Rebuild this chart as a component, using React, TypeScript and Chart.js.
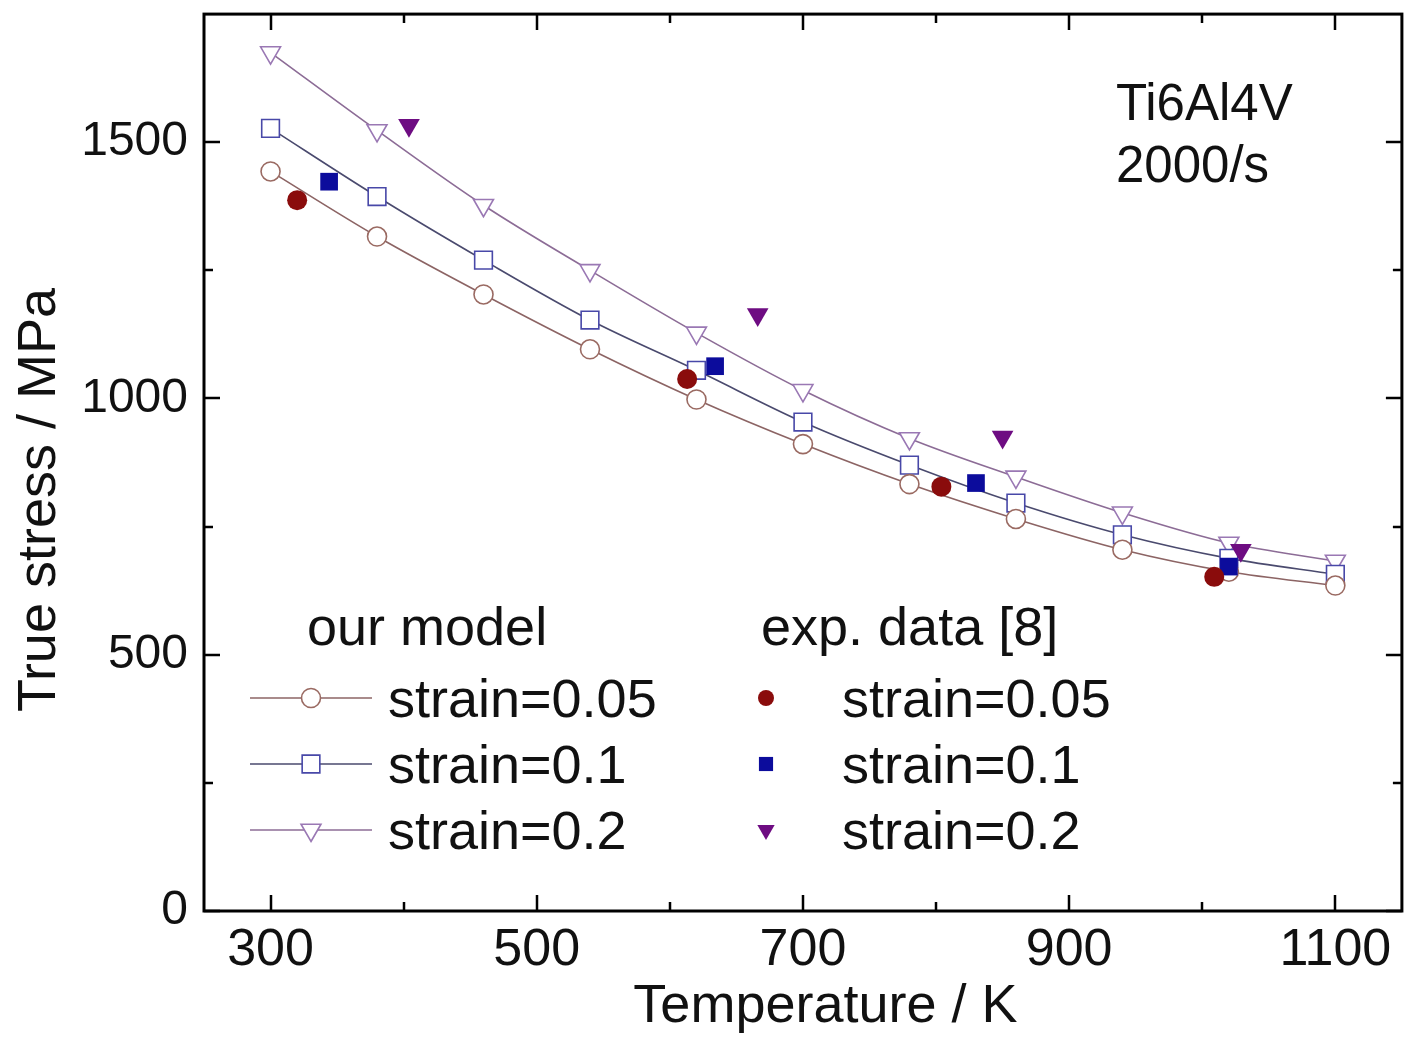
import React, { useEffect, useRef } from "react";
import { Chart, registerables } from "chart.js";

Chart.register(...registerables);

// ---------- data ----------
const MODEL_T = [300, 380, 460, 540, 620, 700, 780, 860, 940, 1020, 1100];
const MODEL_005 = [1443, 1316, 1203, 1096, 998, 911, 833, 765, 705, 662, 635];
const MODEL_01 = [1527, 1394, 1270, 1153, 1055, 954, 870, 796, 734, 688, 657];
const MODEL_02 = [1675, 1523, 1377, 1250, 1128, 1016, 922, 847, 777, 718, 683];

const EXP_T_005 = [320, 613, 804, 1009];
const EXP_005 = [1387, 1038, 828, 652];
const EXP_T_01 = [344, 634, 830, 1020];
const EXP_01 = [1423, 1063, 835, 672];
const EXP_T_02 = [404, 666, 850, 1029];
const EXP_02 = [1533, 1164, 925, 704];

const SERIES_LABELS = ["strain=0.05", "strain=0.1", "strain=0.2"];
const LEGEND_HEADERS = ["our model", "exp. data [8]"];
const ANNOTATION_LINES = ["Ti6Al4V", "2000/s"];

const X_MAJOR = [300, 500, 700, 900, 1100];
const X_MINOR = [400, 600, 800, 1000];
const Y_MAJOR = [0, 500, 1000, 1500];
const Y_MINOR = [250, 750, 1250];

const X_TITLE = "Temperature / K";
const Y_TITLE = "True stress / MPa";

const FONT = "'Liberation Sans', Arial, Helvetica, sans-serif";

const pts = (xs: number[], ys: number[]) => xs.map((x, i) => ({ x, y: ys[i] }));

// ---------- drawing helpers ----------
function drawMarker(
  ctx: CanvasRenderingContext2D,
  style: string,
  x: number,
  y: number,
  r: number,
  fill: string,
  stroke: string,
  lw: number
) {
  ctx.save();
  ctx.beginPath();
  if (style === "circle") {
    ctx.arc(x, y, r, 0, Math.PI * 2);
  } else if (style === "rect") {
    const s = r * Math.SQRT1_2;
    ctx.rect(x - s, y - s, 2 * s, 2 * s);
  } else {
    const h = r;
    ctx.moveTo(x, y + h);
    ctx.lineTo(x + h * Math.sin((2 * Math.PI) / 3), y - h * 0.5);
    ctx.lineTo(x - h * Math.sin((2 * Math.PI) / 3), y - h * 0.5);
    ctx.closePath();
  }
  ctx.fillStyle = fill;
  ctx.fill();
  if (lw > 0) {
    ctx.lineWidth = lw;
    ctx.strokeStyle = stroke;
    ctx.stroke();
  }
  ctx.restore();
}

const framePlugin = {
  id: "frameAndLegend",
  afterDraw(chart: any) {
    const { ctx, chartArea } = chart;
    const { left, right, top, bottom } = chartArea;
    const xs = chart.scales.x;
    const ys = chart.scales.y;
    ctx.save();
    ctx.strokeStyle = "#000";
    ctx.lineWidth = 2.5;
    ctx.lineCap = "butt";
    const MAJ = 16;
    const MIN = 9;
    const xTick = (v: number, len: number) => {
      const px = Math.round(xs.getPixelForValue(v));
      ctx.beginPath();
      ctx.moveTo(px, bottom);
      ctx.lineTo(px, bottom - len);
      ctx.moveTo(px, top);
      ctx.lineTo(px, top + len);
      ctx.stroke();
    };
    const yTick = (v: number, len: number) => {
      const py = Math.round(ys.getPixelForValue(v));
      ctx.beginPath();
      ctx.moveTo(left, py);
      ctx.lineTo(left + len, py);
      ctx.moveTo(right, py);
      ctx.lineTo(right - len, py);
      ctx.stroke();
    };
    X_MAJOR.forEach((v) => xTick(v, MAJ));
    X_MINOR.forEach((v) => xTick(v, MIN));
    Y_MAJOR.forEach((v) => yTick(v, MAJ));
    Y_MINOR.forEach((v) => yTick(v, MIN));
    ctx.lineWidth = 3;
    ctx.strokeRect(left, top, right - left, bottom - top);

    // annotation
    ctx.fillStyle = "#111";
    ctx.font = `51px ${FONT}`;
    ctx.textAlign = "left";
    ctx.textBaseline = "alphabetic";
    ctx.fillText(ANNOTATION_LINES[0], 1116, 120);
    ctx.fillText(ANNOTATION_LINES[1], 1116, 182);

    // legend
    const ds = chart.data.datasets;
    ctx.font = `54px ${FONT}`;
    ctx.fillText(LEGEND_HEADERS[0], 307, 645);
    ctx.fillText(LEGEND_HEADERS[1], 761, 645);
    const baselines = [717, 783, 849];
    const centers = [698, 764, 830];
    for (let i = 0; i < 3; i++) {
      const m = ds[i + 3];
      const e = ds[i];
      ctx.beginPath();
      ctx.strokeStyle = m.borderColor;
      ctx.lineWidth = 1.6;
      ctx.moveTo(250, centers[i]);
      ctx.lineTo(372, centers[i]);
      ctx.stroke();
      drawMarker(ctx, m.pointStyle, 311, centers[i], m.pointRadius, "#fff", m.pointBorderColor, 1.6);
      ctx.fillStyle = "#111";
      ctx.fillText(m.label, 388, baselines[i]);
      drawMarker(ctx, e.pointStyle, 766, centers[i], e.pointRadius * 0.8, e.pointBackgroundColor, e.pointBackgroundColor, 0);
      ctx.fillStyle = "#111";
      ctx.fillText(e.label, 842, baselines[i]);
    }
    ctx.restore();
  },
};

export default function App() {
  const ref = useRef<HTMLCanvasElement | null>(null);

  useEffect(() => {
    if (!ref.current) return;
    const expStyles = [
      { color: "#8a0c0c", style: "circle", r: 10 },
      { color: "#0c0c9c", style: "rect", r: 12.5 },
      { color: "#6e0c82", style: "triangle", r: 12.5 },
    ];
    const modelStyles = [
      { line: "#8c6464", mk: "#9a6a62", style: "circle", r: 9.5 },
      { line: "#4a4a6e", mk: "#4848a8", style: "rect", r: 12.5 },
      { line: "#8c6c96", mk: "#9a78b4", style: "triangle", r: 11.5 },
    ];
    const expData = [pts(EXP_T_005, EXP_005), pts(EXP_T_01, EXP_01), pts(EXP_T_02, EXP_02)];
    const modelData = [pts(MODEL_T, MODEL_005), pts(MODEL_T, MODEL_01), pts(MODEL_T, MODEL_02)];

    const datasets: any[] = [];
    expStyles.forEach((s, i) => {
      datasets.push({
        label: SERIES_LABELS[i],
        data: expData[i],
        showLine: false,
        pointStyle: s.style,
        rotation: s.style === "triangle" ? 180 : 0,
        pointRadius: s.r,
        pointBackgroundColor: s.color,
        pointBorderColor: s.color,
        pointBorderWidth: 0,
        borderColor: s.color,
        backgroundColor: s.color,
        order: 1,
      });
    });
    modelStyles.forEach((s, i) => {
      datasets.push({
        label: SERIES_LABELS[i],
        data: modelData[i],
        showLine: true,
        borderColor: s.line,
        borderWidth: 1.6,
        cubicInterpolationMode: "monotone",
        pointStyle: s.style,
        rotation: s.style === "triangle" ? 180 : 0,
        pointRadius: s.r,
        pointBackgroundColor: "#ffffff",
        pointBorderColor: s.mk,
        pointBorderWidth: 1.6,
        fill: false,
        order: 2,
      });
    });

    const chart = new Chart(ref.current, {
      type: "scatter",
      data: { datasets },
      options: {
        animation: false,
        responsive: false,
        maintainAspectRatio: false,
        devicePixelRatio: 1,
        layout: { padding: { top: 13, right: 10, left: 0, bottom: 0 } },
        plugins: { legend: { display: false }, tooltip: { enabled: false } },
        scales: {
          x: {
            type: "linear",
            min: 250,
            max: 1150,
            grid: { display: false, drawTicks: false },
            border: { display: false },
            afterBuildTicks: (scale: any) => {
              scale.ticks = X_MAJOR.map((v) => ({ value: v }));
            },
            afterFit: (scale: any) => {
              scale.height = 129;
              scale.paddingLeft = 0;
              scale.paddingRight = 0;
            },
            ticks: {
              color: "#111",
              font: { family: FONT, size: 52 },
              padding: 8,
              maxRotation: 0,
              autoSkip: false,
              callback: (v: any) => String(v),
            },
            title: {
              display: true,
              text: "   " + X_TITLE,
              color: "#111",
              font: { family: FONT, size: 54, lineHeight: 1.2 },
              padding: { top: 0, bottom: 0 },
            },
          },
          y: {
            type: "linear",
            min: 0,
            max: 1750,
            grid: { display: false, drawTicks: false },
            border: { display: false },
            afterBuildTicks: (scale: any) => {
              scale.ticks = Y_MAJOR.map((v) => ({ value: v }));
            },
            afterFit: (scale: any) => {
              scale.width = 204;
              scale.paddingTop = 0;
              scale.paddingBottom = 0;
            },
            ticks: {
              color: "#111",
              font: { family: FONT, size: 48 },
              padding: 16,
              autoSkip: false,
              callback: (v: any) => String(v),
            },
            title: {
              display: true,
              text: Y_TITLE + "     ",
              color: "#111",
              font: { family: FONT, size: 54, lineHeight: 1.2 },
              padding: { top: 8, bottom: 0 },
            },
          },
        },
      },
      plugins: [framePlugin],
    });
    return () => chart.destroy();
  }, []);

  return (
    <div style={{ position: "absolute", left: 0, top: 0, width: 1416, height: 1040, background: "#fff" }}>
      <canvas ref={ref} width={1416} height={1040} style={{ display: "block" }} />
    </div>
  );
}
